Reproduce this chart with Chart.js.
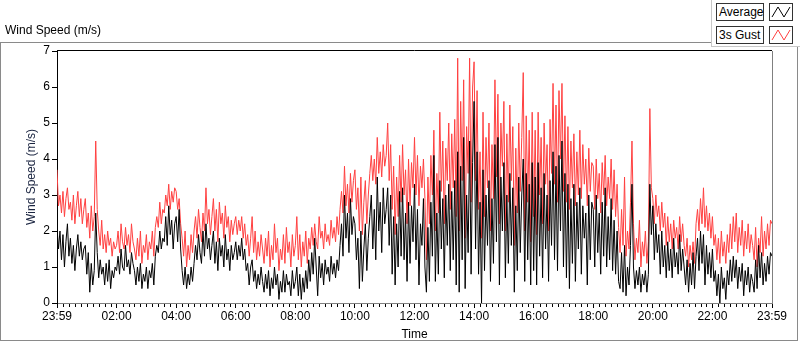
<!DOCTYPE html>
<html>
<head>
<meta charset="utf-8">
<script src="https://cdn.jsdelivr.net/npm/chart.js@4"></script>
<style>
  html, body { margin: 0; padding: 0; background: #fff; }
  body { width: 800px; height: 342px; position: relative; overflow: hidden; font-family: "Liberation Sans", Arial, sans-serif; }
  #frame { position: absolute; left: 0; top: 42px; width: 796px; height: 297px; border: 1px solid #8a8a8a; }
  #chart-wrap { position: absolute; left: 0; top: 0; width: 800px; height: 342px; }
  #title { position: absolute; left: 5px; top: 23px; font-size: 12px; color: #000; }
  #legend { position: absolute; left: 711px; top: 0; width: 89px; height: 46px; background: #fff; border-bottom: 1px solid #c8c8c8; border-left: 1px solid #c8c8c8; }
  .lbl { position: absolute; left: 4px; width: 44px; height: 16px; border: 1px solid #333; font-size: 12px; line-height: 16px; padding-left: 2px; background: #fff; color: #000; }
  .ico { position: absolute; left: 57px; width: 22px; height: 16px; border: 1px solid #333; background: #fff; }
</style>
</head>
<body>
<div id="frame"></div>
<div id="chart-wrap"><canvas id="wind-chart"></canvas></div>
<div id="title">Wind Speed (m/s)</div>
<div id="legend">
  <div class="lbl" style="top:3px">Average</div>
  <div class="ico" style="top:3px"><svg width="22" height="16"><polyline points="2,13 8,3 14,13 20,3" fill="none" stroke="#000" stroke-width="1"/></svg></div>
  <div class="lbl" style="top:26px">3s Gust</div>
  <div class="ico" style="top:26px"><svg width="22" height="16"><polyline points="2,13 8,3 14,13 20,3" fill="none" stroke="#ff4040" stroke-width="1"/></svg></div>
</div>
<script>
// one sample every 3 minutes, starting at 23:59 (each row = 2 hours)
const stepMinutes = 3;

const tickLabels = ['23:59', '02:00', '04:00', '06:00', '08:00', '10:00', '12:00',
  '14:00', '16:00', '18:00', '20:00', '22:00', '23:59'];

// average wind speed (m/s)
const averageSpeed = [
  2.1,1.5,2.0,1.2,1.9,1.0,1.7,2.2,1.3,1.8,1.1,1.6,0.9,1.5,1.9,1.3,1.7,1.2,1.5,1.6,0.8,1.4,0.3,1.1,0.5,0.9,2.5,1.4,0.7,1.2,0.8,1.0,0.5,1.1,0.6,1.2,0.4,0.9,0.7,1.0,
  0.9,1.3,0.8,1.5,1.0,0.9,1.6,1.0,1.2,0.8,1.4,1.1,0.9,0.5,1.0,0.6,1.1,0.4,0.8,0.6,1.0,0.4,0.9,0.7,1.1,0.5,1.3,1.6,1.4,2.0,1.5,1.8,1.7,2.4,1.6,2.7,1.9,2.3,1.5,2.2,
  2.4,1.7,2.6,1.5,0.9,0.5,1.0,0.4,0.8,0.5,1.0,0.6,1.1,1.6,1.2,1.9,1.4,1.1,2.0,1.3,2.2,1.5,1.8,1.2,1.6,2.0,1.1,1.7,0.9,1.8,1.3,1.6,1.0,1.9,1.2,1.5,0.9,1.6,1.2,1.4,
  1.7,1.2,1.6,1.3,1.8,1.2,1.5,0.9,1.1,0.5,1.0,1.2,0.6,0.9,0.4,0.8,0.5,1.0,0.6,0.3,0.8,0.4,0.9,0.2,0.7,0.4,1.0,0.5,0.8,0.1,0.6,0.3,0.9,0.3,0.8,0.5,0.6,0.2,0.9,0.4,
  0.6,1.0,0.2,0.8,0.1,0.7,0.3,0.9,0.4,1.2,0.6,1.4,0.8,1.8,1.0,0.2,1.3,0.7,1.1,0.5,1.2,0.8,1.0,0.6,1.3,0.8,1.1,0.7,1.2,0.9,1.6,2.2,1.3,3.0,1.8,2.5,1.4,2.9,1.9,2.4,
  2.2,1.2,1.8,0.4,2.0,0.6,1.5,2.2,0.9,1.8,2.4,3.0,1.5,2.6,1.2,3.5,2.0,2.8,1.4,3.2,2.2,2.6,3.2,1.6,3.0,0.8,2.4,0.5,2.2,1.0,3.1,1.3,3.2,1.2,2.5,0.6,2.8,1.1,2.7,1.7,
  3.3,1.2,2.6,0.5,2.2,1.6,2.9,1.0,0.3,2.1,0.6,2.8,1.3,4.1,0.6,2.5,0.8,3.4,1.5,2.9,0.7,3.0,1.6,3.3,0.9,3.1,1.2,3.4,0.5,4.2,0.3,3.8,1.2,4.6,0.4,3.0,1.4,4.5,0.8,3.9,
  5.6,1.5,4.2,0.8,2.8,0.0,3.7,0.9,3.0,1.6,3.4,0.6,2.9,1.1,4.4,1.7,4.6,0.5,3.5,2.0,3.9,0.7,3.0,1.1,3.6,1.6,3.2,0.3,2.7,0.9,3.5,1.4,3.0,4.0,0.6,3.6,1.2,3.3,0.5,3.9,
  0.9,3.5,0.5,3.9,1.3,3.2,0.7,3.6,1.5,3.0,0.6,3.4,1.6,4.2,1.2,3.8,0.9,4.1,2.0,4.5,1.0,3.6,0.7,3.3,0.4,2.9,1.1,3.3,0.6,2.8,1.5,3.2,0.8,2.7,1.8,2.5,0.5,3.0,1.2,2.8,
  2.6,1.0,3.0,1.4,2.5,0.8,2.8,1.3,3.2,1.0,2.4,1.2,2.9,0.9,2.3,0.8,2.0,0.6,0.4,1.4,0.3,1.6,0.2,1.0,0.5,1.6,3.3,1.0,0.4,0.9,0.5,1.0,0.3,0.8,0.5,0.9,0.3,0.8,3.3,1.9,
  2.7,1.2,2.2,1.4,1.9,0.8,2.0,1.0,1.6,0.7,1.7,0.9,1.5,0.7,1.8,1.0,1.4,0.8,1.9,0.9,1.5,1.0,0.5,1.2,0.3,1.1,0.5,1.4,0.4,1.3,1.8,0.9,2.0,1.1,1.9,0.5,1.6,0.8,1.4,0.7,
  1.5,0.6,0.9,0.2,0.8,0.0,1.0,0.4,0.7,0.1,0.9,0.5,1.2,0.6,1.3,0.7,1.2,0.4,1.0,0.6,1.1,0.2,0.9,0.5,1.0,0.3,0.8,0.6,0.3,1.2,0.4,1.6,0.7,1.4,0.5,1.1,0.6,1.3,0.8,1.4,
  1.3
];

// 3 second gust (m/s)
const gustSpeed = [
  3.7,2.7,3.0,2.5,3.1,2.4,2.9,3.2,2.6,2.8,2.3,3.0,2.2,2.7,3.1,2.4,2.9,2.2,2.6,2.9,2.1,2.5,1.8,2.7,2.0,2.4,4.5,2.6,2.0,1.6,2.3,1.5,1.9,1.4,2.0,1.6,1.8,1.3,1.7,1.5,
  1.6,2.0,1.4,2.2,1.7,1.5,2.1,1.6,1.9,1.4,2.2,1.7,1.5,1.2,1.8,1.3,2.0,1.1,1.6,1.4,1.9,1.2,1.7,1.5,2.0,1.3,2.1,2.4,2.1,2.8,2.2,2.6,2.5,3.0,2.7,3.3,2.6,3.1,2.8,3.2,
  3.1,2.6,2.9,2.2,1.8,1.3,2.0,1.0,1.6,1.2,1.9,1.4,2.0,2.4,1.8,2.6,2.1,1.7,2.5,2.0,3.2,2.2,2.6,1.9,2.4,2.9,2.0,2.6,1.7,2.8,2.2,2.5,1.8,2.7,2.1,2.4,1.7,2.3,1.9,2.2,
  2.4,1.9,2.3,2.0,2.4,1.8,2.2,1.6,1.9,1.3,1.8,2.4,1.4,2.0,1.2,1.7,1.3,1.9,1.5,1.1,1.8,1.3,2.0,1.0,1.6,1.2,2.2,1.4,1.8,0.9,1.5,1.2,1.9,1.1,2.1,1.4,1.7,1.0,1.9,1.3,
  1.6,2.4,1.2,1.9,1.0,1.7,1.3,2.0,1.1,1.8,1.5,2.1,1.6,2.2,1.7,1.5,2.4,1.8,2.0,1.5,2.2,1.7,1.9,1.6,2.3,1.8,2.1,1.7,2.4,1.9,2.6,3.1,2.5,3.8,2.7,3.3,2.5,3.6,2.8,3.4,
  3.7,2.6,3.2,2.0,3.5,1.9,2.8,3.4,2.2,3.0,3.6,4.1,3.4,4.0,3.3,4.6,3.6,4.2,3.5,4.4,3.8,4.1,5.0,3.4,4.4,2.6,3.8,1.9,3.5,2.4,4.1,2.8,4.4,3.0,3.7,2.2,4.0,2.7,3.9,3.2,
  4.6,3.0,4.1,2.7,3.8,3.2,4.0,2.9,1.2,3.5,2.2,4.1,3.0,4.8,2.0,3.6,2.5,5.3,3.1,4.5,2.2,4.3,3.4,5.0,2.6,4.7,3.2,5.1,2.4,6.8,2.0,5.6,3.4,6.2,1.8,4.9,3.6,6.8,2.8,6.0,
  6.7,3.4,5.9,2.6,4.2,1.8,5.3,2.4,4.6,3.2,5.0,2.0,4.4,2.9,6.2,3.5,5.8,2.2,5.0,3.8,5.6,2.0,4.7,2.8,5.5,3.4,4.9,1.6,4.3,2.5,5.0,3.1,4.6,6.4,2.0,5.2,2.8,4.8,1.7,5.3,
  2.4,4.8,1.9,5.3,3.0,4.6,2.2,5.0,3.3,4.4,2.0,5.1,3.6,6.1,3.3,5.5,2.8,5.9,4.0,6.1,3.1,5.2,2.8,4.9,2.6,4.5,3.2,4.7,2.7,4.2,3.0,4.8,2.9,4.4,3.3,4.0,2.7,4.3,3.1,3.9,
  3.8,2.6,4.0,2.9,3.6,2.5,3.9,3.0,4.1,2.7,3.5,2.9,4.0,2.6,3.7,2.4,3.3,2.1,1.4,2.6,1.6,3.5,1.3,2.0,1.5,2.8,4.5,2.2,1.2,1.8,1.4,2.3,1.0,1.7,1.3,2.0,1.1,1.7,5.4,3.2,
  2.9,2.2,3.0,2.4,2.7,2.0,2.8,2.1,2.5,1.6,2.4,1.7,2.2,1.5,2.3,1.8,2.1,1.5,2.4,1.7,2.2,1.6,1.3,1.8,1.0,1.6,1.2,1.7,1.1,2.2,2.6,2.0,2.9,2.2,3.2,2.1,2.7,2.0,2.5,1.8,
  2.4,1.6,1.9,1.2,1.8,1.1,2.0,1.3,1.7,1.1,1.9,1.4,2.2,1.5,2.4,1.7,2.5,1.4,2.1,1.6,2.3,1.3,2.0,1.5,2.2,1.4,1.9,1.6,1.2,2.1,1.0,1.8,1.4,2.4,1.3,2.0,1.5,2.2,1.6,2.3,
  2.2
];

const minutes = averageSpeed.map((v, i) => i * stepMinutes);

const fontFamily = '"Liberation Sans", Arial, sans-serif';

// minor ticks every 12 min plus the frame round the plot
const axisExtras = {
  id: 'axisExtras',
  afterDraw(chart) {
    const { ctx, chartArea: a } = chart;
    const x = chart.scales.x;
    ctx.save();
    ctx.lineWidth = 1;
    ctx.strokeStyle = '#000';
    for (let m = 0; m <= 1440; m += 12) {
      if (m % 120 === 0) continue;
      const px = Math.round(x.getPixelForValue(m)) + 0.5;
      ctx.beginPath();
      ctx.moveTo(px, a.bottom + 1);
      ctx.lineTo(px, a.bottom + 4);
      ctx.stroke();
    }
    // top border black, right border grey
    ctx.beginPath();
    ctx.moveTo(a.left, Math.round(a.top) - 0.5);
    ctx.lineTo(a.right, Math.round(a.top) - 0.5);
    ctx.stroke();
    ctx.strokeStyle = '#808080';
    ctx.beginPath();
    ctx.moveTo(Math.round(a.right) + 0.5, a.top);
    ctx.lineTo(Math.round(a.right) + 0.5, a.bottom);
    ctx.stroke();
    ctx.restore();
  }
};

const ctx = document.getElementById('wind-chart').getContext('2d');
const windChart = new Chart(ctx, {
  type: 'line',
  data: {
    labels: minutes,
    datasets: [
      {
        label: 'Average',
        data: averageSpeed,
        borderColor: '#000000',
        borderWidth: 1,
        pointRadius: 0,
        tension: 0,
      },
      {
        label: '3s Gust',
        data: gustSpeed,
        borderColor: '#ff4040',
        borderWidth: 1,
        pointRadius: 0,
        tension: 0,
      },
    ],
  },
  options: {
    responsive: true,
    maintainAspectRatio: false,
    animation: false,
    layout: { padding: { top: 51, right: 28, left: 0, bottom: 0 } },
    plugins: {
      legend: { display: false },
      tooltip: { enabled: false },
    },
    scales: {
      x: {
        type: 'linear',
        min: 0,
        max: 1440,
        afterFit: (scale) => { scale.height = 39; },
        afterBuildTicks: (scale) => {
          scale.ticks = tickLabels.map((t, i) => ({ value: i * 120 }));
        },
        ticks: {
          autoSkip: false,
          maxRotation: 0,
          padding: 1,
          color: '#000',
          font: { family: fontFamily, size: 12 },
          callback: (value, index) => tickLabels[index],
        },
        grid: { drawOnChartArea: false, tickLength: 5, color: '#000' },
        border: { color: '#808080' },
        title: {
          display: true,
          text: 'Time',
          color: '#000',
          font: { family: fontFamily, size: 12 },
          padding: { top: 0, bottom: 0 },
        },
      },
      y: {
        min: 0,
        max: 7,
        afterFit: (scale) => { scale.width = 57; },
        ticks: {
          stepSize: 1,
          padding: 2,
          color: '#000',
          font: { family: fontFamily, size: 12 },
        },
        grid: { drawOnChartArea: false, tickLength: 5, color: '#000' },
        border: { color: '#000' },
        title: {
          display: true,
          text: 'Wind Speed (m/s)',
          color: '#1a2440',
          font: { family: fontFamily, size: 12 },
          padding: { top: 24, bottom: 0 },
        },
      },
    },
  },
  plugins: [axisExtras],
});
</script>
</body>
</html>
